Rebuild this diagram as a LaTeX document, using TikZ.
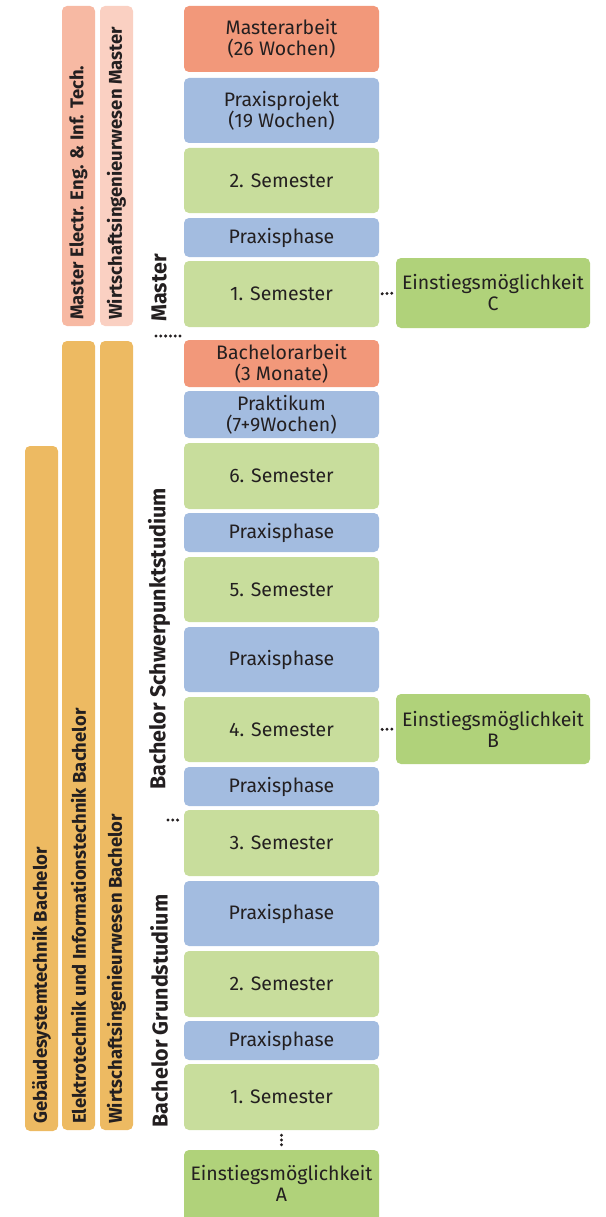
\documentclass[tikz,border=0pt]{standalone}
\usepackage{fontspec}
\setmainfont{Fira Sans}
\definecolor{txt}{HTML}{231F20}
\definecolor{salmon}{HTML}{F2987A}
\definecolor{pblue}{HTML}{A3BCE0}
\definecolor{lgreen}{HTML}{C8DD9C}
\definecolor{dgreen}{HTML}{B0D27A}
\definecolor{orangebar}{HTML}{EDBA62}
\definecolor{pinkA}{HTML}{F7B9A3}
\definecolor{pinkB}{HTML}{FAD0C2}
\tikzset{
  box/.style={rounded corners=5pt, minimum width=195pt, inner sep=0pt, align=center,
    text=txt, font=\fontsize{19.5}{21}\selectfont},
  sem/.style={box, fill=lgreen},
  prx/.style={box, fill=pblue},
  arb/.style={box, fill=salmon},
  ein/.style={box, fill=dgreen, minimum width=194pt},
  bar/.style={rounded corners=5pt},
  bartext/.style={rotate=90, anchor=west, text=txt, inner sep=0pt,
    font=\fontsize{18.5}{20}\selectfont\bfseries},
  phase/.style={rotate=90, text=txt, inner sep=0pt, font=\fontsize{21.5}{24}\selectfont\bfseries},
  dots/.style={line width=3.3pt, line cap=round, dash pattern=on 0pt off 4.8pt, draw=txt}
}
\begin{document}
\begin{tikzpicture}[x=1pt, y=-1pt]
\useasboundingbox (0,0) rectangle (605,1217);
\begin{scope}
\clip (0,0) rectangle (605,1217);
% left bars
\fill[bar, pinkA] (62,6) rectangle (95,326);
\fill[bar, pinkB] (100,6) rectangle (133,326);
\fill[bar, orangebar] (62,341) rectangle (95,1130);
\fill[bar, orangebar] (100,341) rectangle (133,1130);
\fill[bar, orangebar] (25,446) rectangle (58,1131);
\node[bartext] (tA) at (78.5,320) {Master Electr. Eng. \& Inf. Tech.};
\node[bartext] (tB) at (116.5,320) {Wirtschaftsingenieurwesen Master};
\node[bartext] (tC) at (78.5,1124) {Elektrotechnik und Informationstechnik Bachelor};
\node[bartext] (tD) at (116.5,1124) {Wirtschaftsingenieurwesen Bachelor};
\node[bartext] (tE) at (41.5,1124) {Gebäudesystemtechnik Bachelor};
% phase labels
\node[phase] (lm) at (159,288) {Master};
\node[phase] (ls) at (159,639) {Bachelor Schwerpunktstudium};
\node[phase] (lg) at (159,1011) {Bachelor Grundstudium};
\coordinate (dm1) at (156,336);
\coordinate (dm2) at (180,336);
\draw[dots] (dm1) -- (dm2);
\coordinate (ds1) at (168,820);
\coordinate (ds2) at (179,820);
\draw[dots] (ds1) -- (ds2);
% main column
\node[arb, minimum height=66pt] (ma) at (281.5,39) {Masterarbeit\\(26 Wochen)};
\node[prx, minimum height=65pt] (pp) at (281.5,110.5) {Praxisprojekt\\(19 Wochen)};
\node[sem, minimum height=65pt] (ms2) at (281.5,180.5) {2. Semester};
\node[prx, minimum height=39pt] (mpp) at (281.5,237.5) {Praxisphase};
\node[sem, minimum height=66pt] (ms1) at (281.5,294) {1. Semester};
\node[arb, minimum height=47pt] (ba) at (281.5,363.5) {Bachelorarbeit\\(3 Monate)};
\node[prx, minimum height=47pt] (pk) at (281.5,414.5) {Praktikum\\(7+9Wochen)};
\node[sem, minimum height=66pt] (s6) at (281.5,476) {6. Semester};
\node[prx, minimum height=39pt] (p5) at (281.5,532.5) {Praxisphase};
\node[sem, minimum height=65pt] (s5) at (281.5,589.5) {5. Semester};
\node[prx, minimum height=65pt] (p4) at (281.5,659.5) {Praxisphase};
\node[sem, minimum height=65pt] (s4) at (281.5,729.5) {4. Semester};
\node[prx, minimum height=39pt] (p3) at (281.5,786.5) {Praxisphase};
\node[sem, minimum height=66pt] (s3) at (281.5,843) {3. Semester};
\node[prx, minimum height=65pt] (p2) at (281.5,913.5) {Praxisphase};
\node[sem, minimum height=66pt] (s2) at (281.5,984) {2. Semester};
\node[prx, minimum height=39pt] (p1) at (281.5,1040.5) {Praxisphase};
\node[sem, minimum height=66pt] (s1) at (281.5,1097) {1. Semester};
\node[ein, minimum width=195pt, minimum height=76pt] (ea) at (281.5,1188) {};
\node[text=txt, align=center, font=\fontsize{19.5}{21}\selectfont] (eat) at (281.5,1183) {Einstiegsmöglichkeit\\A};
\node[ein, minimum height=70pt] (ec) at (493,293) {Einstiegsmöglichkeit\\C};
\node[ein, minimum height=70pt] (eb) at (493,729) {Einstiegsmöglichkeit\\B};
% dotted connectors
\draw[dots, shorten <=3pt, shorten >=4pt] (ms1.east) -- (ec.west);
\draw[dots, shorten <=3pt, shorten >=4pt] (s4.east) -- (eb.west);
\draw[dots, shorten <=5pt, shorten >=3pt] (s1.south) -- (ea.north);
\end{scope}
\end{tikzpicture}
\end{document}
